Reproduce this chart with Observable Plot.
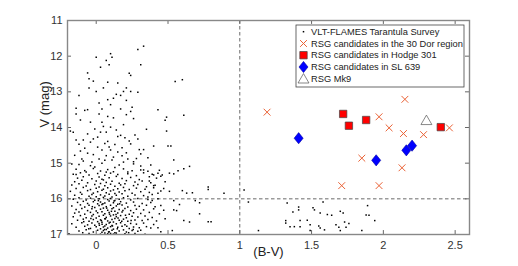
<!DOCTYPE html>
<html>
<head>
<meta charset="utf-8">
<script src="https://cdn.jsdelivr.net/npm/d3@7"></script>
<script src="https://cdn.jsdelivr.net/npm/@observablehq/plot@0.6"></script>
<style>
  html, body { margin: 0; padding: 0; background: #fff; }
  #chart { width: 518px; height: 266px; }
  svg { font-family: "Liberation Sans", Arial, sans-serif; }
</style>
</head>
<body>
<div id="chart"></div>
<script>
// ---------- data ----------
const xTicks = [0, 0.5, 1, 1.5, 2, 2.5];
const yTicks = [11, 12, 13, 14, 15, 16, 17];

const legendLabels = [
  "VLT-FLAMES Tarantula Survey",
  "RSG candidates in the 30 Dor region",
  "RSG candidates in Hodge 301",
  "RSG candidates in SL 639",
  "RSG Mk9"
];

// RSG candidates in the 30 Dor region [B-V, V]
const dorRSG = [
  [1.19, 13.57], [2.15, 13.21], [1.97, 13.70], [2.04, 14.01], [2.14, 14.17],
  [2.28, 14.20], [2.46, 14.01], [1.85, 14.86], [2.13, 15.13], [1.71, 15.63], [1.97, 15.63]
];
// RSG candidates in Hodge 301
const hodgeRSG = [[1.72, 13.62], [1.76, 13.95], [1.88, 13.79], [2.40, 13.99]];
// RSG candidates in SL 639
const sl639RSG = [[1.41, 14.30], [1.95, 14.92], [2.16, 14.64], [2.20, 14.51]];
// RSG Mk9
const mk9RSG = [[2.30, 13.80]];

// VLT-FLAMES Tarantula Survey [B-V, V]
const vltUpper = [
  [0.33,11.72],[0.29,11.81],[0.10,11.93],[0.11,12.03],[0.0,12.03],[0.07,12.12],[0.09,12.24],[0.03,12.31],
  [0.31,12.24],[-0.06,12.47],[0.23,12.48],[0.24,12.54],[-0.05,12.63],[0.60,12.66],[0.55,12.71],[-0.02,12.70],
  [0.08,12.73],[0.15,12.75],[0.05,12.89],[-0.05,12.89],[0.21,12.89],[0.19,12.99],[0.24,12.99],[0.29,13.01],
  [0.0,12.99],[-0.12,13.10],[0.14,13.07],[0.17,13.10],[0.12,13.18],[0.08,13.22],[0.02,13.31],[0.21,13.24],
  [0.25,13.43],[0.10,13.36],[-0.14,13.46],[-0.08,13.52],[-0.06,13.50],[0.04,13.48],[0.17,13.48],[0.43,13.50],
  [0.24,13.55],[-0.14,13.62],[0.02,13.62],[0.21,13.64],[0.08,13.69],[0.61,13.66],[0.49,13.71],[-0.11,13.79],
  [0.12,13.73],[0.26,13.75],[0.48,13.80],[-0.04,13.85],[0.04,13.85],[0.05,13.97],[-0.01,14.04],[-0.18,14.10],
  [-0.16,14.13],[0.10,13.99],[0.14,14.07],[-0.06,14.18],[0.49,14.10],[0.03,14.13],[0.07,14.13],[0.27,14.21],
  [0.15,14.25],[0.17,14.22],[0.01,14.27],[0.29,14.32],[0.20,14.29],[-0.09,14.35],[-0.14,14.35],[0.08,14.39],
  [-0.04,14.41],[0.24,14.46],[0.50,14.52],[0.52,14.52],[0.40,14.52],[0.01,14.55],[0.04,14.63],[0.10,14.63],
  [0.15,14.69],[-0.11,14.66],[-0.06,14.72],[0.30,14.62],[-0.02,14.76],[0.07,14.79],[0.18,14.79],[0.31,14.74],
  [0.02,14.88],[0.11,14.91],[0.22,14.88],[0.36,14.85],[0.54,14.91],[-0.09,14.94],[0.04,15.0],[-0.12,15.04],
  [-0.17,15.02],[-0.04,15.07],[0.16,15.05],[0.26,15.02],[0.38,15.05],[0.65,15.09],[0.61,15.16],[0.51,15.28],
  [0.54,15.30],[0.33,15.19],[0.43,15.28],[0.45,15.37],[0.40,15.33],[-0.07,15.25],[-0.14,15.32],[0.07,15.25],
  [0.22,15.25],[0.13,14.48],[-0.02,14.32],[0.19,13.92],[0.35,14.05],[-0.10,14.88],[0.26,14.96],[0.09,14.55],
  [-0.08,14.58],[0.18,14.57],[0.06,14.45],[-0.12,14.47],[0.21,14.71],[0.12,14.83],[-0.03,14.97],[0.28,14.87],
  [0.13,15.12],[-0.01,15.11],[0.31,15.08],[0.19,14.97],[0.06,14.92],[-0.15,14.78],[0.33,14.62],[0.23,14.38]
];
const vltMid = [
  [0.60,15.77],[0.63,15.84],[0.67,15.83],[0.78,15.74],[0.78,15.67],[0.89,15.84],[0.72,16.11],[0.51,15.79],
  [0.43,15.84],[0.54,16.31],[0.56,16.33],[0.61,16.61],[0.65,16.65],[0.72,16.42],[0.78,16.64],[0.80,16.64],
  [0.48,16.56],[0.53,16.89],[0.43,16.81],[0.45,16.19],[0.39,16.05],[0.36,15.95],[0.58,16.16],[0.54,16.05],
  [0.40,15.63],[0.37,15.50],[0.69,16.05],[0.57,15.21],[1.03,15.75],[1.06,16.09],[1.13,16.89],
  [1.33,16.12],[1.37,16.37],[1.41,16.23],[1.41,16.31],[1.51,16.25],[1.52,16.31],[1.58,16.09],[1.56,16.40],
  [1.61,16.44],[1.64,16.46],[1.70,16.35],[1.72,16.40],[1.89,16.19],[1.90,16.46],[1.94,16.61],[1.32,16.61],
  [1.32,16.68],[1.35,16.78],[1.38,16.78],[1.42,16.61],[1.42,16.78],[1.47,16.60],[1.49,16.73],[1.55,16.76],
  [1.56,16.82],[1.59,16.87],[1.49,16.89],[1.67,16.73],[1.69,16.80],[1.70,16.89],[1.73,16.65],[1.76,16.69],
  [1.74,16.80],[1.85,16.89],[1.88,16.45]
];
const vltDense = [
  [-0.14,15.17],[-0.08,15.21],[-0.02,15.15],[0.03,15.22],[0.08,15.18],[0.12,15.24],[0.19,15.16],[0.25,15.21],[0.31,15.19],[0.36,15.23],[0.44,15.2],
  [-0.16,15.31],[-0.11,15.27],[-0.05,15.33],[0.01,15.29],[0.06,15.34],[0.1,15.28],[0.15,15.32],[0.22,15.3],[0.28,15.35],[0.33,15.27],[0.39,15.31],[0.46,15.33],
  [-0.13,15.42],[-0.09,15.38],[-0.03,15.44],[0.02,15.39],[0.04,15.45],[0.09,15.41],[0.14,15.37],[0.18,15.43],[0.24,15.4],[0.3,15.46],[0.37,15.38],[0.42,15.42],
  [-0.15,15.52],[-0.1,15.48],[-0.06,15.55],[0.0,15.5],[0.05,15.47],[0.07,15.54],[0.11,15.51],[0.16,15.56],[0.21,15.49],[0.27,15.53],[0.32,15.5],[0.38,15.55],[0.48,15.52],
  [-0.17,15.61],[-0.12,15.58],[-0.07,15.64],[-0.01,15.6],[0.03,15.57],[0.06,15.63],[0.1,15.59],[0.13,15.65],[0.17,15.61],[0.2,15.58],[0.26,15.63],[0.29,15.6],[0.35,15.66],[0.41,15.62],
  [-0.14,15.71],[-0.09,15.68],[-0.04,15.74],[0.0,15.7],[0.02,15.67],[0.05,15.73],[0.08,15.69],[0.12,15.75],[0.15,15.72],[0.19,15.68],[0.23,15.74],[0.28,15.7],[0.34,15.73],[0.4,15.69],[0.47,15.71],
  [-0.18,15.79],[-0.11,15.82],[-0.06,15.77],[-0.02,15.84],[0.01,15.8],[0.04,15.76],[0.07,15.83],[0.1,15.78],[0.13,15.85],[0.16,15.81],[0.2,15.77],[0.25,15.84],[0.31,15.8],[0.37,15.82],[0.45,15.78],
  [-0.15,15.9],[-0.1,15.87],[-0.05,15.93],[-0.03,15.88],[0.0,15.94],[0.03,15.89],[0.06,15.92],[0.09,15.87],[0.11,15.95],[0.14,15.9],[0.18,15.86],[0.22,15.93],[0.27,15.89],[0.33,15.91],[0.39,15.88],
  [-0.16,16.01],[-0.12,15.97],[-0.07,16.03],[-0.04,15.98],[-0.01,16.04],[0.02,16.0],[0.05,15.96],[0.08,16.02],[0.1,15.99],[0.13,16.05],[0.16,16.01],[0.19,15.97],[0.24,16.03],[0.29,15.99],[0.36,16.02],[0.43,16.0],
  [-0.13,16.1],[-0.09,16.07],[-0.06,16.13],[-0.02,16.08],[0.01,16.14],[0.03,16.09],[0.06,16.12],[0.09,16.06],[0.12,16.11],[0.15,16.15],[0.17,16.08],[0.21,16.12],[0.26,16.09],[0.32,16.13],[0.38,16.1],
  [-0.17,16.2],[-0.11,16.17],[-0.08,16.23],[-0.05,16.18],[-0.01,16.24],[0.02,16.19],[0.04,16.16],[0.07,16.22],[0.1,16.18],[0.12,16.25],[0.14,16.2],[0.18,16.17],[0.22,16.23],[0.27,16.19],[0.3,16.21],[0.35,16.18],[0.41,16.22],
  [-0.14,16.3],[-0.1,16.27],[-0.06,16.33],[-0.03,16.28],[0.0,16.34],[0.03,16.29],[0.05,16.26],[0.08,16.32],[0.11,16.28],[0.13,16.35],[0.16,16.3],[0.2,16.27],[0.24,16.33],[0.28,16.29],[0.33,16.31],[0.4,16.28],[0.47,16.32],
  [-0.15,16.4],[-0.12,16.37],[-0.08,16.43],[-0.04,16.38],[-0.02,16.44],[0.01,16.39],[0.04,16.36],[0.06,16.42],[0.09,16.38],[0.12,16.45],[0.15,16.4],[0.18,16.37],[0.23,16.43],[0.26,16.39],[0.31,16.41],[0.37,16.38],[0.44,16.42],
  [-0.16,16.5],[-0.11,16.47],[-0.07,16.53],[-0.03,16.48],[0.0,16.54],[0.02,16.49],[0.05,16.46],[0.07,16.52],[0.1,16.48],[0.13,16.55],[0.14,16.5],[0.17,16.47],[0.21,16.53],[0.25,16.49],[0.29,16.51],[0.34,16.48],[0.39,16.52],
  [-0.13,16.6],[-0.09,16.57],[-0.05,16.63],[-0.02,16.58],[0.01,16.64],[0.03,16.59],[0.06,16.56],[0.08,16.62],[0.11,16.58],[0.12,16.65],[0.16,16.6],[0.19,16.57],[0.22,16.63],[0.27,16.59],[0.32,16.61],[0.36,16.58],[0.42,16.62],
  [-0.17,16.7],[-0.1,16.67],[-0.06,16.73],[-0.03,16.68],[-0.01,16.74],[0.02,16.69],[0.04,16.66],[0.07,16.72],[0.09,16.68],[0.11,16.75],[0.14,16.7],[0.17,16.67],[0.2,16.73],[0.24,16.69],[0.28,16.71],[0.33,16.68],[0.4,16.72],
  [-0.14,16.8],[-0.08,16.77],[-0.04,16.83],[0.0,16.78],[0.03,16.84],[0.05,16.79],[0.06,16.76],[0.08,16.82],[0.1,16.78],[0.12,16.85],[0.15,16.8],[0.18,16.77],[0.23,16.83],[0.26,16.79],[0.3,16.81],[0.35,16.78],[0.38,16.82],
  [-0.12,16.9],[-0.07,16.87],[-0.02,16.93],[0.01,16.88],[0.04,16.94],[0.05,16.89],[0.07,16.86],[0.09,16.92],[0.11,16.88],[0.13,16.95],[0.16,16.9],[0.19,16.87],[0.21,16.93],[0.25,16.89],[0.29,16.91],[0.31,16.88],[0.45,16.92],
  [-0.19,16.98],[-0.05,16.97],[0.03,16.99],[0.06,16.96],[0.08,16.98],[0.1,16.97],[0.12,16.99],[0.14,16.96],[0.2,16.98],[0.27,16.97],[0.34,16.99],
  [0.015,16.05],[0.047,16.14],[0.073,16.26],[0.106,16.35],[0.138,16.44],[0.064,16.56],[0.097,16.66],[0.022,16.74],[0.058,16.86],[0.086,16.93],
  [0.152,16.54],[0.178,16.63],[0.113,16.76],[0.147,16.84],[0.036,16.61],[0.124,16.06],[0.186,16.33],[-0.037,16.55],[-0.052,16.84],[0.213,16.77],
  [0.204,16.46],[0.163,16.14],[-0.027,16.22],[0.243,16.61],[0.258,16.86],[0.226,16.95],[0.093,16.43],[0.041,16.71],[-0.087,16.64],[-0.094,16.95]
];
const vltAll = [...vltUpper, ...vltMid, ...vltDense];

// ---------- custom symbols ----------
const timesSym = { draw(ctx, size) { const r = Math.sqrt(size / Math.PI); ctx.moveTo(-r, -r); ctx.lineTo(r, r); ctx.moveTo(r, -r); ctx.lineTo(-r, r); } };
const diamondSym = { draw(ctx, size) { const r = Math.sqrt(size / Math.PI); ctx.moveTo(0, -1.3 * r); ctx.lineTo(1.05 * r, 0); ctx.lineTo(0, 1.3 * r); ctx.lineTo(-1.05 * r, 0); ctx.closePath(); } };
const squareSym = { draw(ctx, size) { const r = Math.sqrt(size / Math.PI); ctx.rect(-r, -r, 2 * r, 2 * r); } };
const triSym = { draw(ctx, size) { const r = Math.sqrt(size / Math.PI); ctx.moveTo(0, -1.25 * r); ctx.lineTo(1.3 * r, r); ctx.lineTo(-1.3 * r, r); ctx.closePath(); } };

const xDom = [-0.2, 2.6], yDom = [11, 17];
const xTickLen = 0.028, yTickLen = 0.11;

const plot = Plot.plot({
  width: 518, height: 266,
  marginLeft: 67, marginRight: 49, marginTop: 20, marginBottom: 32,
  style: { background: "#fff", fontFamily: "Liberation Sans, Arial, sans-serif" },
  x: { domain: xDom, label: null },
  y: { domain: yDom, reverse: true, label: null },
  marks: [
    Plot.axisX({ ticks: xTicks, tickSize: 0, tickPadding: 7, tickFormat: d => String(d), fontSize: 11, color: "#333", label: null }),
    Plot.axisY({ ticks: yTicks, tickSize: 0, tickPadding: 5, tickFormat: d => String(d), fontSize: 11, color: "#333", label: null }),
    Plot.ruleX([1], { stroke: "#444", strokeWidth: 0.8, strokeDasharray: "3.5,2.5" }),
    Plot.ruleY([16], { stroke: "#444", strokeWidth: 0.8, strokeDasharray: "3.5,2.5" }),
    Plot.dot(vltAll, { x: d => d[0], y: d => d[1], symbol: squareSym, r: 0.75, fill: "#000", stroke: "none" }),
    Plot.dot(dorRSG, { x: d => d[0], y: d => d[1], symbol: timesSym, r: 3.4, stroke: "#ea6236", strokeWidth: 1, fill: "none" }),
    Plot.dot(hodgeRSG, { x: d => d[0], y: d => d[1], symbol: squareSym, r: 3.7, fill: "#ff0000", stroke: "#444", strokeWidth: 0.7 }),
    Plot.dot(sl639RSG, { x: d => d[0], y: d => d[1], symbol: diamondSym, r: 4.3, fill: "#0000ff", stroke: "#0000a0", strokeWidth: 0.6 }),
    Plot.dot(mk9RSG, { x: d => d[0], y: d => d[1], symbol: triSym, r: 4.2, fill: "#fff", stroke: "#555", strokeWidth: 0.7 }),
    // inward ticks on all four sides
    Plot.ruleX(xTicks, { y1: yDom[1], y2: yDom[1] - yTickLen, stroke: "#666" }),
    Plot.ruleX(xTicks, { y1: yDom[0], y2: yDom[0] + yTickLen, stroke: "#666" }),
    Plot.ruleY(yTicks, { x1: xDom[0], x2: xDom[0] + xTickLen, stroke: "#666" }),
    Plot.ruleY(yTicks, { x1: xDom[1], x2: xDom[1] - xTickLen, stroke: "#666" }),
    Plot.frame({ stroke: "#888", strokeWidth: 1.4 }),
    Plot.text(["(B-V)"], { frameAnchor: "bottom", dy: 21, fontSize: 13, fill: "#222" }),
    Plot.text(["V (mag)"], { frameAnchor: "left", dx: -23, rotate: -90, fontSize: 13, fill: "#222" })
  ]
});

// ---------- legend (inside the axes, top right) ----------
const svg = d3.select(plot);
const lg = svg.append("g").attr("font-family", "Liberation Sans, Arial, sans-serif").attr("font-size", 9.3).attr("text-anchor", "start");
const bx = 296, by = 25, bw = 168, bh = 62;
lg.append("rect").attr("x", bx).attr("y", by).attr("width", bw).attr("height", bh)
  .attr("fill", "#fff").attr("stroke", "#444").attr("stroke-width", 0.8);
const rowY = [31.7, 43.5, 55.2, 67.0, 78.8];
const mx = 303.5;
const sym = (s, r) => d3.symbol(s, Math.PI * r * r)();
lg.append("path").attr("d", sym(squareSym, 0.75)).attr("transform", `translate(${mx},${rowY[0]})`).attr("fill", "#000");
lg.append("path").attr("d", sym(timesSym, 3.4)).attr("transform", `translate(${mx},${rowY[1]})`).attr("stroke", "#ea6236").attr("fill", "none");
lg.append("path").attr("d", sym(squareSym, 3.7)).attr("transform", `translate(${mx},${rowY[2]})`).attr("fill", "#ff0000").attr("stroke", "#444").attr("stroke-width", 0.7);
lg.append("path").attr("d", sym(diamondSym, 4.3)).attr("transform", `translate(${mx},${rowY[3]})`).attr("fill", "#0000ff").attr("stroke", "#0000a0").attr("stroke-width", 0.6);
lg.append("path").attr("d", sym(triSym, 4.2)).attr("transform", `translate(${mx},${rowY[4]})`).attr("fill", "#fff").attr("stroke", "#555").attr("stroke-width", 0.7);
legendLabels.forEach((t, i) => {
  lg.append("text").attr("x", 311).attr("y", rowY[i]).attr("dy", "0.35em").attr("text-anchor", "start").attr("fill", "#222").text(t);
});

document.getElementById("chart").appendChild(plot);
</script>
</body>
</html>
